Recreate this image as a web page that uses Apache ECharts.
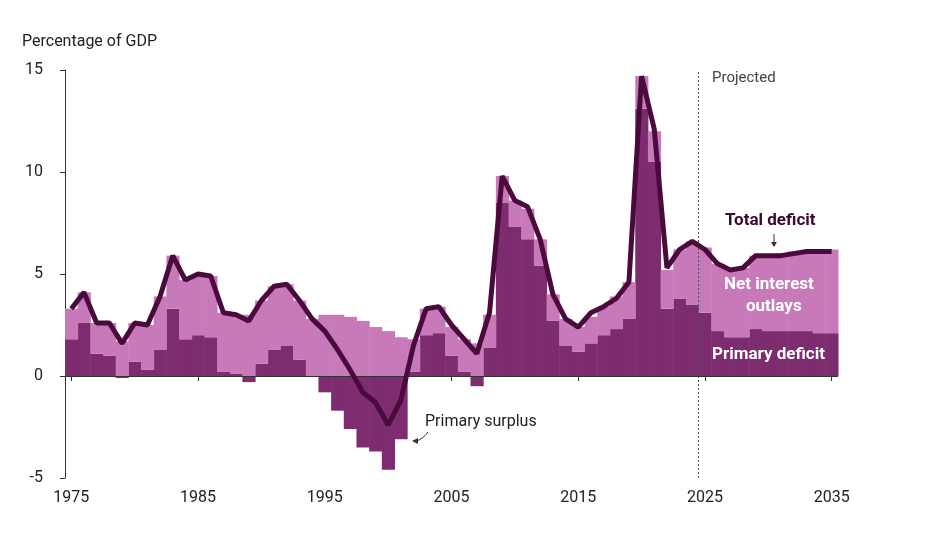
<!DOCTYPE html>
<html><head><meta charset="utf-8">
<script src="https://cdn.jsdelivr.net/npm/echarts@6/dist/echarts.min.js"></script>
<style>body{margin:0}#c{width:947px;height:534px}</style></head>
<body><div id="c"></div>
<script>
const years = [];
for (let y = 1975; y <= 2035; y++) years.push(y);
const totalDeficit = [3.3,4.1,2.6,2.6,1.6,2.6,2.5,3.9,5.9,4.7,5.0,4.9,3.1,3.0,2.7,3.7,4.4,4.5,3.7,2.8,2.2,1.3,0.3,-0.8,-1.3,-2.4,-1.2,1.5,3.3,3.4,2.5,1.8,1.1,3.1,9.8,8.6,8.3,6.7,4.0,2.8,2.4,3.1,3.4,3.8,4.6,14.7,12.1,5.3,6.2,6.6,6.2,5.5,5.2,5.3,5.9,5.9,5.9,6.0,6.1,6.1,6.1];
const primaryDeficit = [1.8,2.6,1.1,1.0,-0.1,0.7,0.3,1.3,3.3,1.8,2.0,1.9,0.2,0.1,-0.3,0.6,1.3,1.5,0.8,0.0,-0.8,-1.7,-2.6,-3.5,-3.7,-4.6,-3.1,0.2,2.0,2.1,1.0,0.2,-0.5,1.4,8.5,7.3,6.7,5.4,2.7,1.5,1.2,1.6,2.0,2.3,2.8,13.1,10.5,3.3,3.8,3.5,3.1,2.2,1.9,1.9,2.3,2.2,2.2,2.2,2.2,2.1,2.1];
const netInterest = [1.5,1.5,1.5,1.6,1.7,1.9,2.2,2.6,2.6,2.9,3.0,3.0,2.9,2.9,3.0,3.1,3.1,3.0,2.9,2.8,3.0,3.0,2.9,2.7,2.4,2.2,1.9,1.6,1.3,1.3,1.4,1.6,1.6,1.6,1.3,1.3,1.5,1.3,1.3,1.3,1.2,1.3,1.4,1.6,1.8,1.6,1.5,1.9,2.4,3.1,3.2,3.3,3.3,3.4,3.6,3.7,3.8,3.9,3.9,4.0,4.1];
const tickYears = [1975,1985,1995,2005,2015,2025,2035];
const projectedStart = 2024.5;

const DARK = '#7c2c6f', PINK = '#c879b9', LINE = '#4a0b3c';
const font = 'Roboto';

function stackRect(values, base, color) {
  return {
    type: 'custom',
    data: years.map((y, i) => [y, values[i], base ? base(i) : 0]),
    renderItem: (params, api) => {
      const x = api.value(0), v = api.value(1), b = api.value(2);
      const p0 = api.coord([x - 0.5, b]);
      const p1 = api.coord([x + 0.5, b + v]);
      return {
        type: 'rect',
        shape: { x: p0[0], y: Math.min(p0[1], p1[1]), width: p1[0] - p0[0] + 0.5, height: Math.abs(p1[1] - p0[1]) },
        style: { fill: color }
      };
    },
    z: 2
  };
}

const chart = echarts.init(document.getElementById('c'));
chart.setOption({
  animation: false,
  grid: { left: 65, right: 109, top: 70, bottom: 56 },
  xAxis: {
    type: 'value', min: 1974.5, max: 2035.5,
    axisLine: { show: false },
    splitLine: { show: false },
    axisTick: { show: true, customValues: tickYears, length: 5, lineStyle: { color: '#333' } },
    axisLabel: { customValues: tickYears, formatter: v => String(v), fontFamily: font, fontSize: 16, color: '#222', margin: 12 }
  },
  yAxis: {
    type: 'value', min: -5, max: 15, interval: 5,
    axisLine: { show: true, lineStyle: { color: '#333' } },
    axisTick: { show: true, length: 5, lineStyle: { color: '#333' } },
    splitLine: { show: false },
    axisLabel: { fontFamily: font, fontSize: 16, color: '#222', margin: 22 }
  },
  series: [
    stackRect(primaryDeficit, null, DARK),
    stackRect(netInterest, i => Math.max(primaryDeficit[i], 0), PINK),
    {
      type: 'line', data: years.map((y, i) => [y, totalDeficit[i]]),
      symbol: 'none', lineStyle: { color: LINE, width: 5 }, z: 5,
      markLine: {
        silent: true, symbol: 'none', label: { show: false },
        lineStyle: { color: '#555', type: [2, 2], width: 1 },
        data: [{ xAxis: projectedStart }, { yAxis: 0, lineStyle: { type: 'solid', color: '#333', width: 1 } }]
      }
    }
  ],
  graphic: { elements: [
    { type: 'text', z: 100, left: 22, top: 34, style: { text: 'Percentage of GDP', font: '16px Roboto', fill: '#222' } },
    { type: 'text', z: 100, left: 712, top: 71, style: { text: 'Projected', font: '15px Roboto', fill: '#444' } },
    { type: 'text', z: 100, left: 725, top: 212, style: { text: 'Total deficit', font: 'bold 17px Roboto', fill: '#3a0830' } },
    { type: 'line', z: 100, shape: { x1: 774, y1: 234, x2: 774, y2: 246 }, style: { stroke: '#333', lineWidth: 1 } },
    { type: 'polygon', z: 100, shape: { points: [[771, 242], [777, 242], [774, 247]] }, style: { fill: '#333' } },
    { type: 'text', z: 100, left: 724, top: 276, style: { text: 'Net interest', font: 'bold 17px Roboto', fill: '#fff' } },
    { type: 'text', z: 100, left: 746, top: 298, style: { text: 'outlays', font: 'bold 17px Roboto', fill: '#fff' } },
    { type: 'text', z: 100, left: 712, top: 346, style: { text: 'Primary deficit', font: 'bold 17px Roboto', fill: '#fff' } },
    { type: 'text', z: 100, left: 425, top: 414, style: { text: 'Primary surplus', font: '16px Roboto', fill: '#222' } },
    { type: 'bezierCurve', z: 100, shape: { x1: 428, y1: 432, cpx1: 422, cpy1: 440, x2: 416, y2: 441 }, style: { stroke: '#333', lineWidth: 1, fill: null } },
    { type: 'polygon', z: 100, shape: { points: [[412, 441], [418, 438], [418, 444]] }, style: { fill: '#333' } }
  ] }
});
</script></body></html>
